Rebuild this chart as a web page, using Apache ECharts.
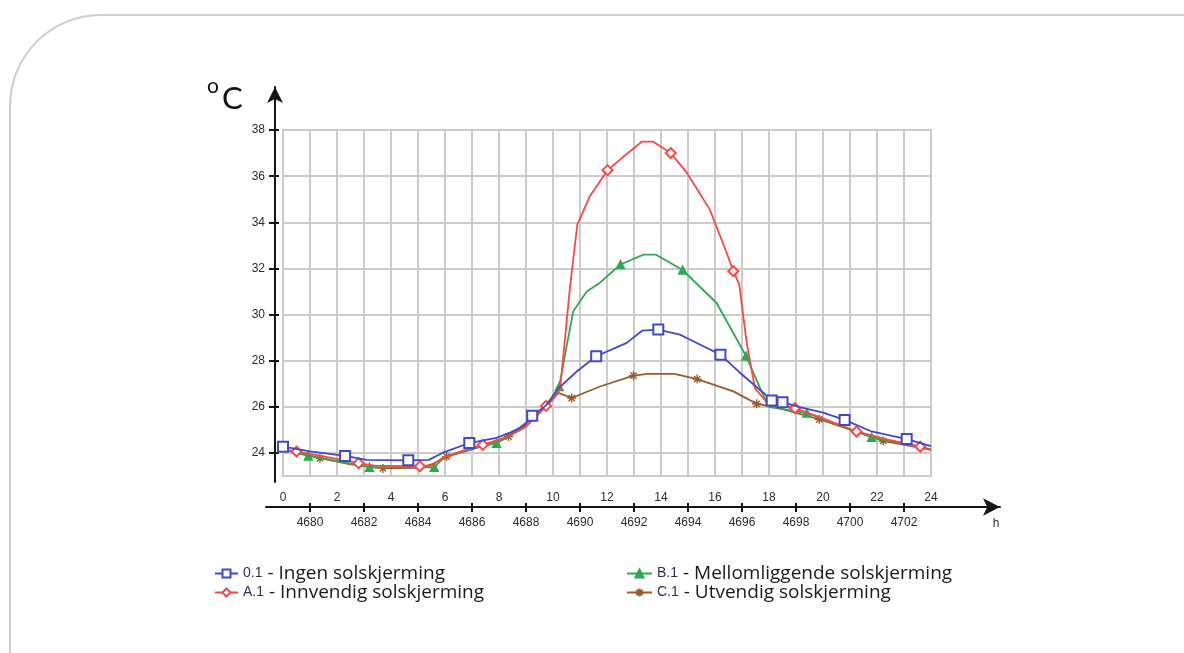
<!DOCTYPE html>
<html><head><meta charset="utf-8">
<script src="https://cdn.jsdelivr.net/npm/echarts@6/dist/echarts.min.js"></script>
<style>
html,body{margin:0;padding:0;background:#fff;overflow:hidden;width:1184px;height:653px;}
#frame{position:absolute;left:9px;top:14px;width:1400px;height:900px;border-left:2px solid #cdcdcd;border-top:2px solid #cdcdcd;border-top-left-radius:92px;}
#chart{position:absolute;left:0;top:0;width:1184px;height:653px;}
</style></head><body>
<div id="frame"></div><div id="chart"></div>
<script>
// ---- tick labels ----
const hourTicks = [0, 2, 4, 6, 8, 10, 12, 14, 16, 18, 20, 22, 24];
const stepTickHours = [1, 3, 5, 7, 9, 11, 13, 15, 17, 19, 21, 23];
const stepTickLabels = ['4680','4682','4684','4686','4688','4690','4692','4694','4696','4698','4700','4702'];
const tempTicks = [24, 26, 28, 30, 32, 34, 36, 38];

// ---- series ----
const seriesNames = ['0.1', 'A.1', 'B.1', 'C.1'];
const seriesDescriptions = ['Ingen solskjerming', 'Innvendig solskjerming', 'Mellomliggende solskjerming', 'Utvendig solskjerming'];

const hours01 = [0, 1, 2.3, 3.1, 4.64, 5.4, 5.9, 6.9, 7.9, 8.4, 8.96, 9.23, 9.74, 10.2, 10.88, 11.6, 12.73, 13.3, 13.9, 14.7, 15.44, 16.2, 16.9, 17.8, 18.1, 18.5, 19.1, 20.0, 20.8, 21.8, 23.1, 24];
const temps01 = [24.27, 24.07, 23.87, 23.7, 23.68, 23.7, 24.0, 24.43, 24.65, 24.87, 25.2, 25.61, 26.05, 26.8, 27.53, 28.19, 28.77, 29.3, 29.35, 29.13, 28.7, 28.26, 27.5, 26.6, 26.27, 26.2, 26.0, 25.75, 25.43, 24.93, 24.6, 24.3];
const marks01 = [0, 2.3, 4.64, 6.9, 9.23, 11.6, 13.9, 16.2, 18.1, 18.5, 20.8, 23.1];

const hoursA1 = [0, 0.5, 1.5, 2.8, 3.4, 5.07, 5.5, 5.9, 6.9, 7.4, 8.3, 9.0, 9.74, 10.26, 10.63, 10.9, 11.37, 12.02, 12.73, 13.3, 13.7, 14.36, 14.95, 15.8, 16.43, 16.68, 16.9, 17.17, 17.48, 17.9, 18.96, 20.0, 21.24, 22.5, 23.6, 24];
const tempsA1 = [24.15, 24.06, 23.85, 23.56, 23.45, 23.42, 23.45, 23.78, 24.2, 24.35, 24.7, 25.15, 26.04, 26.74, 31.2, 33.9, 35.14, 36.26, 36.96, 37.5, 37.5, 37.0, 36.16, 34.57, 32.68, 31.88, 31.3, 28.8, 26.8, 26.23, 25.94, 25.5, 24.93, 24.55, 24.27, 24.13];
const marksA1 = [0.5, 2.8, 5.07, 7.4, 9.74, 12.02, 14.36, 16.68, 18.96, 21.24, 23.6];

const hoursB1 = [0, 0.94, 2.0, 3.2, 5.6, 6.0, 6.9, 7.91, 8.96, 9.74, 10.23, 10.5, 10.75, 11.25, 11.74, 12.5, 13.35, 13.8, 14.8, 16.06, 17.15, 17.98, 19.4, 20.5, 21.8, 23.0, 24];
const tempsB1 = [24.15, 23.87, 23.65, 23.38, 23.38, 23.84, 24.15, 24.42, 25.1, 26.0, 26.88, 28.6, 30.14, 31.0, 31.38, 32.17, 32.6, 32.6, 31.93, 30.5, 28.2, 26.0, 25.73, 25.25, 24.68, 24.4, 24.15];
const marksB1 = [0.94, 3.2, 5.6, 7.91, 10.23, 12.5, 14.8, 17.15, 19.4, 21.8];

const hoursC1 = [0, 1.37, 2.5, 3.7, 5.0, 5.5, 6.06, 7.0, 8.35, 9.2, 9.74, 10.2, 10.69, 11.74, 12.98, 13.5, 14.5, 15.34, 16.68, 17.54, 18.2, 19.86, 22.23, 24];
const tempsC1 = [24.15, 23.77, 23.5, 23.33, 23.35, 23.5, 23.84, 24.15, 24.71, 25.5, 26.0, 26.6, 26.38, 26.88, 27.35, 27.43, 27.43, 27.2, 26.67, 26.13, 26.0, 25.46, 24.52, 24.13];
const marksC1 = [1.37, 3.7, 6.06, 8.35, 10.69, 12.98, 15.34, 17.54, 19.86, 22.23];

// ---- build ----
const GRID_C = '#cbcbcb';
const AXIS_C = '#151515';
const LABEL = {fontSize: 12, color: '#2b2b2b', fontFamily: 'Liberation Sans'};

function buildData(hours, temps, marks) {
  return hours.map((h, i) => marks.indexOf(h) >= 0 ? [h, temps[i]] : {value: [h, temps[i]], symbol: 'none'});
}
function mkSeries(name, color, symbol, size, hours, temps, marks, z) {
  return {
    name: name, type: 'line', xAxisIndex: 0, yAxisIndex: 0, z: z,
    data: buildData(hours, temps, marks),
    symbol: symbol, symbolSize: size, showAllSymbol: true,
    lineStyle: {color: color, width: 1.8},
    itemStyle: {color: color, borderColor: color, borderWidth: 1.4},
    emphasis: {disabled: true}
  };
}
const star = 'path://M5,0L5,10M0,5L10,5M1.5,1.5L8.5,8.5M1.5,8.5L8.5,1.5';

const legendFormatter = name => '{code|' + name + '}{txt|- ' + seriesDescriptions[seriesNames.indexOf(name)] + '}';
const legendText = {rich: {
  code: {fontSize: 14, color: '#2a3055', fontFamily: "'Liberation Sans Narrow','Liberation Sans'", padding: [0, 5, 0, 0], lineHeight: 21},
  txt: {fontSize: 19, color: '#1a1a1a', fontFamily: 'Open Sans', lineHeight: 21}
}};

const chart = echarts.init(document.getElementById('chart'), null, {renderer: 'canvas'});
chart.setOption({
  animation: false,
  title: [
    {text: 'o', left: 202, top: 71, textStyle: {fontSize: 21, fontWeight: 'normal', color: '#111', fontFamily: 'Lato'}},
    {text: 'C', left: 217, top: 78, textStyle: {fontSize: 31, fontWeight: 'normal', color: '#111', fontFamily: 'Lato'}}
  ],
  legend: [
    {data: [seriesNames[0], seriesNames[1]], orient: 'vertical', left: 209, top: 559, itemWidth: 23, itemHeight: 10, itemGap: 0,
     formatter: legendFormatter, textStyle: legendText, selectedMode: false},
    {data: [seriesNames[2], seriesNames[3]], orient: 'vertical', left: 621, top: 559, itemWidth: 25, itemHeight: 10, itemGap: 0,
     formatter: legendFormatter, textStyle: legendText, selectedMode: false}
  ],
  grid: [
    {left: 283, top: 130, width: 648, height: 346, show: true, borderColor: GRID_C, borderWidth: 2, containLabel: false},
    {left: 266, top: 100, width: 734, height: 407, containLabel: false},
    {left: 275, top: 87, width: 20, height: 395, containLabel: false}
  ],
  xAxis: [
    {gridIndex: 0, type: 'value', min: 0, max: 24, interval: 1, position: 'bottom',
     axisLine: {show: false}, axisTick: {show: false},
     axisLabel: Object.assign({margin: 16, formatter: v => hourTicks.indexOf(v) >= 0 ? String(v) : ''}, LABEL),
     splitLine: {show: true, lineStyle: {color: GRID_C, width: 2}}},
    {gridIndex: 1, type: 'value', min: -17 / 27, max: 717 / 27, position: 'bottom',
     name: 'h', nameLocation: 'end', nameGap: -4,
     nameTextStyle: {fontSize: 12, color: '#2b2b2b', fontFamily: 'Liberation Sans', align: 'center', verticalAlign: 'top', padding: [11, 0, 0, 0]},
     axisLine: {show: true, symbol: ['none', 'arrow'], symbolSize: [13, 17], lineStyle: {color: AXIS_C, width: 2}},
     axisTick: {show: true, customValues: stepTickHours, length: 5, lineStyle: {color: AXIS_C, width: 2}},
     axisLabel: Object.assign({margin: 10, customValues: stepTickHours, formatter: v => stepTickLabels[stepTickHours.indexOf(v)]}, LABEL),
     splitLine: {show: false}},
    {gridIndex: 1, type: 'value', min: -17 / 27, max: 717 / 27, position: 'bottom',
     axisLine: {show: false},
     axisTick: {show: true, inside: true, customValues: stepTickHours, length: 4, lineStyle: {color: AXIS_C, width: 2}},
     axisLabel: {show: false}, splitLine: {show: false}},
    {gridIndex: 2, type: 'value', show: false}
  ],
  yAxis: [
    {gridIndex: 0, type: 'value', min: 23, max: 38, interval: 1, position: 'left',
     axisLine: {show: false}, axisTick: {show: false}, axisLabel: {show: false},
     splitLine: {show: true, lineStyle: {color: ['rgba(0,0,0,0)', GRID_C], width: 2}}},
    {gridIndex: 1, type: 'value', show: false},
    {gridIndex: 2, type: 'value', min: 23 - 6 / 23, max: 38 + 43 / 23, position: 'left',
     axisLine: {show: true, symbol: ['none', 'arrow'], symbolSize: [12, 16], lineStyle: {color: AXIS_C, width: 2}},
     axisTick: {show: true, customValues: tempTicks, length: 6, lineStyle: {color: AXIS_C, width: 2}},
     axisLabel: Object.assign({margin: 10, customValues: tempTicks}, LABEL),
     splitLine: {show: false}},
    {gridIndex: 2, type: 'value', min: 23 - 6 / 23, max: 38 + 43 / 23, position: 'left',
     axisLine: {show: false},
     axisTick: {show: true, inside: true, customValues: tempTicks, length: 4, lineStyle: {color: AXIS_C, width: 2}},
     axisLabel: {show: false}, splitLine: {show: false}}
  ],
  series: [
    mkSeries(seriesNames[3], '#9b5a2e', star, 9, hoursC1, tempsC1, marksC1, 2),
    mkSeries(seriesNames[2], '#2fa84f', 'triangle', 8, hoursB1, tempsB1, marksB1, 3),
    mkSeries(seriesNames[1], '#ff4545', 'emptyDiamond', 10, hoursA1, tempsA1, marksA1, 4),
    mkSeries(seriesNames[0], '#4049c8', 'emptyRect', 10, hours01, temps01, marks01, 5)
  ]
});
</script>
</body></html>
